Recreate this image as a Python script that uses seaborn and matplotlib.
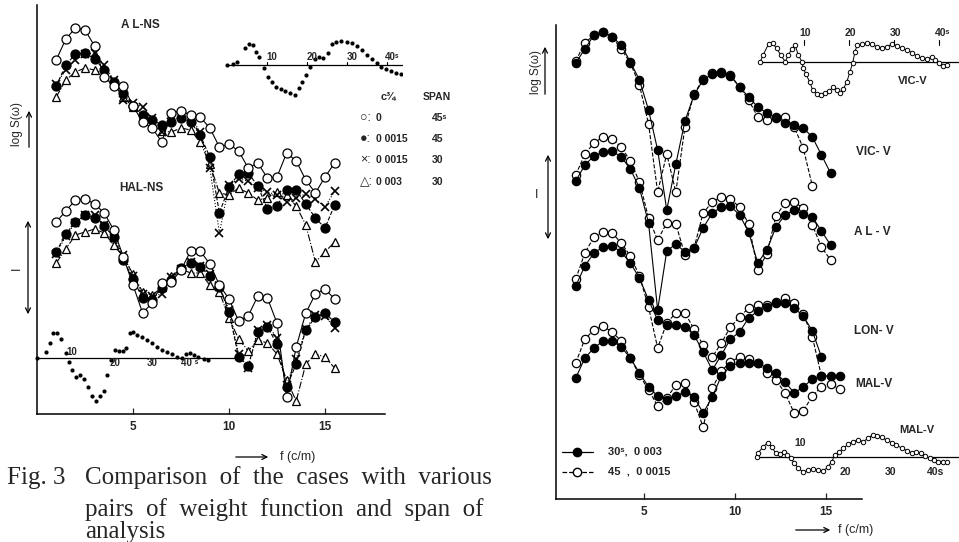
import numpy as np
import matplotlib.pyplot as plt
import seaborn as sns
from matplotlib.patches import FancyArrowPatch
from matplotlib.lines import Line2D

W, H = 959, 542

# frequency grids (c/m)
f_left = [1.0, 1.5, 2.0, 2.5, 3.0, 3.5, 4.0, 4.5, 5.0, 5.5, 6.0, 6.5, 7.0, 7.5, 8.0,
          8.5, 9.0, 9.5, 10.0, 10.5, 11.0, 11.5, 12.0, 12.5, 13.0, 13.5, 14.0, 14.5, 15.0, 15.5]
f_right = [1.25, 1.75, 2.25, 2.75, 3.25, 3.75, 4.25, 4.75, 5.25, 5.75, 6.25, 6.75, 7.25, 7.75, 8.25,
           8.75, 9.25, 9.75, 10.25, 10.75, 11.25, 11.75, 12.25, 12.75, 13.25, 13.75, 14.25, 14.75, 15.25, 15.75]

# AL-NS, log S (relative units)
al_ns_c0 = [3.54, 3.75, 3.86, 3.84, 3.68, 3.37, 3.28, 3.28, 3.08, 2.92, 2.86, 2.72, 3.01, 3.03, 2.99,
            2.97, 2.86, 2.67, 2.70, 2.63, 2.46, 2.51, 2.36, 2.37, 2.61, 2.53, 2.34, 2.21, 2.37, 2.51]
al_ns_c1 = [3.28, 3.49, 3.60, 3.61, 3.55, 3.44, 3.32, 3.21, 3.08, 2.99, 2.94, 2.89, 2.92, 2.96, 2.92,
            2.79, 2.57, 2.01, 2.27, 2.40, 2.41, 2.28, 2.05, 2.08, 2.24, 2.24, 2.10, 1.96, 1.86, 2.09]
al_ns_c2 = [3.30, 3.44, 3.54, 3.60, 3.61, 3.49, 3.34, 3.14, 3.11, 3.07, 2.96, 2.82, 2.99, 2.99, 2.97,
            2.82, 2.46, 1.81, 2.29, 2.35, 2.33, 2.26, 2.22, 2.19, 2.12, 2.16, 2.20, 2.15, 2.07, 2.23]
al_ns_c3 = [3.17, 3.34, 3.42, 3.46, 3.44, 3.40, 3.30, 3.17, 3.07, 2.99, 2.89, 2.83, 2.82, 2.86, 2.84,
            2.72, 2.50, 2.21, 2.19, 2.26, 2.21, 2.14, 2.16, 2.22, 2.19, 2.08, 1.89, 1.52, 1.62, 1.72]

# HAL-NS
hal_ns_c0 = [1.92, 2.03, 2.14, 2.15, 2.10, 2.01, 1.84, 1.57, 1.29, 1.01, 1.11, 1.31, 1.32, 1.44, 1.63,
             1.63, 1.50, 1.29, 1.15, 0.93, 0.98, 1.18, 1.16, 0.91, 0.17, 0.67, 1.01, 1.20, 1.25, 1.15]
hal_ns_c1 = [1.62, 1.80, 1.92, 1.99, 1.96, 1.88, 1.77, 1.54, 1.35, 1.16, 1.14, 1.26, 1.34, 1.46, 1.51,
             1.47, 1.38, 1.27, 1.02, 0.57, 0.48, 0.82, 0.87, 0.70, 0.27, 0.50, 0.84, 0.97, 1.01, 0.92]
hal_ns_c2 = [1.60, 1.78, 1.91, 1.99, 1.99, 1.89, 1.76, 1.59, 1.38, 1.20, 1.18, 1.20, 1.37, 1.45, 1.52,
             1.48, 1.40, 1.27, 1.04, 0.60, 0.46, 0.84, 0.89, 0.76, 0.29, 0.55, 0.85, 0.99, 0.98, 0.86]
hal_ns_c3 = [1.51, 1.65, 1.79, 1.82, 1.85, 1.81, 1.69, 1.57, 1.40, 1.22, 1.19, 1.27, 1.38, 1.45, 1.41,
             1.41, 1.29, 1.22, 0.96, 0.75, 0.63, 0.74, 0.71, 0.60, 0.34, 0.13, 0.50, 0.60, 0.57, 0.46]

# vertical components: 30s/0.003 (filled) and 45/0.0015 (open)
vic_30 = [4.36, 4.50, 4.64, 4.67, 4.62, 4.54, 4.37, 4.19, 3.89, 3.49, 2.89, 3.35, 3.78, 4.04, 4.19,
          4.25, 4.26, 4.23, 4.12, 4.02, 3.92, 3.86, 3.81, 3.76, 3.74, 3.71, 3.62, 3.44, 3.26]
vic_45 = [4.38, 4.56, 4.64, 4.67, 4.62, 4.50, 4.36, 4.14, 3.75, 3.07, 3.45, 3.07, 3.72, 4.05, 4.20,
          4.26, 4.27, 4.24, 4.12, 3.99, 3.82, 3.79, 3.82, 3.82, 3.72, 3.51, 3.13]
al_30 = [3.18, 3.34, 3.43, 3.47, 3.48, 3.42, 3.30, 3.11, 2.76, 1.89, 2.48, 2.55, 2.47, 2.51, 2.71,
         2.86, 2.92, 2.93, 2.84, 2.67, 2.36, 2.49, 2.72, 2.84, 2.89, 2.85, 2.82, 2.68, 2.54]
al_45 = [3.24, 3.45, 3.56, 3.62, 3.60, 3.52, 3.38, 3.17, 2.81, 2.59, 2.76, 2.75, 2.44, 2.51, 2.86,
         2.97, 3.02, 3.00, 2.92, 2.75, 2.29, 2.45, 2.83, 2.96, 2.97, 2.91, 2.74, 2.52, 2.39]
lon_30 = [2.13, 2.33, 2.46, 2.52, 2.53, 2.47, 2.36, 2.21, 1.99, 1.79, 1.74, 1.74, 1.72, 1.64, 1.47,
          1.29, 1.44, 1.60, 1.67, 1.81, 1.88, 1.92, 1.96, 1.96, 1.91, 1.83, 1.68, 1.42]
lon_45 = [2.20, 2.46, 2.62, 2.67, 2.66, 2.56, 2.43, 2.23, 1.92, 1.51, 1.76, 1.86, 1.86, 1.70, 1.54,
          1.42, 1.56, 1.72, 1.82, 1.91, 1.94, 1.94, 1.97, 2.01, 1.96, 1.85, 1.62, 1.23]
mal_30 = [1.21, 1.41, 1.51, 1.58, 1.58, 1.52, 1.41, 1.26, 1.12, 1.03, 0.99, 1.03, 1.07, 1.02, 0.86,
          1.02, 1.23, 1.33, 1.36, 1.36, 1.36, 1.31, 1.26, 1.17, 1.06, 1.12, 1.20, 1.23, 1.23, 1.23]
mal_45 = [1.36, 1.60, 1.69, 1.73, 1.67, 1.58, 1.41, 1.24, 1.09, 0.93, 1.01, 1.14, 1.16, 0.97, 0.72,
          1.11, 1.28, 1.37, 1.42, 1.40, 1.36, 1.26, 1.19, 1.06, 0.86, 0.88, 1.03, 1.12, 1.15, 1.10]

# inset curves (lag in s, relative amplitude)
ins_al_lag = [0, 1.6, 2.6, 4.5, 5.6, 6.4, 7.3, 8.1, 9.3, 10.3, 11.2, 12.3, 13.4, 14.5, 15.8, 17.0, 18.0,
              18.8, 19.8, 20.8, 22.0, 23.1, 24.1, 25.3, 26.2, 27.3, 28.4, 29.9, 31.2, 32.4, 33.7, 34.9,
              36.2, 37.4, 38.6, 39.8, 41.0, 42.2, 43.4]
ins_al_val = [0, 0.1, 0.33, 1.67, 2.07, 2.0, 1.33, 0.83, -0.33, -1.23, -1.73, -2.17, -2.43, -2.57, -2.83,
              -3.0, -2.33, -1.67, -1.0, -0.17, 0.57, 0.77, 0.67, 1.17, 2.1, 2.33, 2.43, 2.33, 2.17, 1.9,
              1.5, 1.0, 0.57, 0.17, -0.2, -0.4, -0.6, -0.8, -0.9]
ins_hal_lag = [0, 2.4, 3.5, 4.4, 5.5, 6.5, 7.8, 8.6, 9.5, 10.5, 11.6, 12.7, 13.9, 14.8, 16.0, 17.0, 18.1,
               18.8, 20.0, 21.1, 22.2, 23.2, 24.1, 25.1, 26.0, 27.0, 28.3, 29.7, 31.0, 32.4, 33.7, 35.1,
               36.4, 37.8, 39.1, 40.3, 41.4, 42.4, 43.6, 45.0, 46.3]
ins_hal_val = [0.06, 0.67, 1.57, 2.57, 2.57, 1.9, 0.57, -0.33, -1.17, -1.9, -1.67, -2.1, -2.83, -3.77,
               -4.23, -3.77, -3.27, -1.67, -0.17, 0.83, 0.77, 0.77, 1.0, 2.57, 2.67, 2.33, 2.1, 1.83,
               1.57, 1.1, 0.83, 0.67, 0.43, 0.17, 0.0, 0.43, 0.5, 0.33, 0.1, -0.1, -0.17]
ins_vic_lag = [0, 0.7, 1.9, 2.8, 3.7, 4.6, 5.6, 6.3, 7.0, 7.8, 8.5, 9.3, 9.6, 10.2, 11.0, 11.7, 12.6,
               13.5, 14.4, 15.4, 16.3, 17.0, 17.8, 18.5, 19.3, 20.0, 20.6, 21.1, 21.6, 22.6, 23.7, 24.8,
               25.9, 27.0, 28.1, 29.3, 30.4, 31.5, 32.6, 33.7, 34.8, 35.9, 37.0, 38.2, 38.9, 39.8, 40.7, 41.5]
ins_vic_val = [0, 0.73, 1.83, 1.9, 1.4, 0.73, 0.07, 0.73, 1.3, 1.73, 0.73, 0.07, -0.6, -1.17, -1.93,
               -2.77, -3.2, -3.27, -3.1, -2.83, -2.5, -2.77, -3.1, -2.7, -1.93, -0.93, -0.03, 1.07, 1.73,
               1.83, 1.9, 1.8, 1.57, 1.4, 1.57, 1.8, 1.67, 1.4, 1.23, 0.97, 0.63, 0.4, 0.33, 0.5, 0.23,
               -0.1, -0.37, -0.27]
ins_mal_lag = [0, 0.3, 1.4, 2.4, 3.3, 4.2, 5.1, 6.0, 6.7, 7.5, 8.2, 9.2, 10.3, 11.4, 12.5, 13.6, 14.7,
               15.7, 16.6, 17.3, 18.3, 19.2, 20.3, 21.4, 22.5, 23.6, 24.7, 25.7, 26.7, 27.7, 28.8, 29.9,
               31.0, 32.2, 33.3, 34.4, 35.3, 36.4, 37.3, 38.4, 39.3, 40.3, 41.4, 42.3]
ins_mal_val = [0, 0.47, 1.07, 1.47, 1.0, 0.4, 0.33, 0.57, 0.23, -0.1, -0.53, -1.1, -1.5, -1.27, -1.2,
               -1.27, -1.37, -1.0, -0.43, 0.23, 0.57, 0.9, 1.33, 1.57, 1.73, 1.57, 1.9, 2.23, 2.17, 2.0,
               1.73, 1.47, 1.23, 0.9, 0.67, 0.47, 0.57, 0.4, 0.13, -0.1, -0.27, -0.43, -0.43, -0.43]

sns.set_theme(style='ticks')
plt.rcParams['font.family'] = ['Liberation Sans', 'DejaVu Sans']

fig = plt.figure(figsize=(W / 100, H / 100), dpi=100)


def box(x0, y0, x1, y1):
    # pixel box (top-left origin) -> figure fraction rect
    return [x0 / W, 1 - y1 / H, (x1 - x0) / W, (y1 - y0) / H]


def ftext(x, y, s, **kw):
    kw.setdefault('ha', 'center')
    kw.setdefault('va', 'center')
    fig.text(x / W, 1 - y / H, s, **kw)


def farrow(x0, y0, x1, y1, style='->'):
    fig.add_artist(FancyArrowPatch((x0 / W, 1 - y0 / H), (x1 / W, 1 - y1 / H),
                                   transform=fig.transFigure, arrowstyle=style,
                                   mutation_scale=9, lw=0.9, color='black'))


def curve(ax, f, y, ls, marker, mfc, ms=6.5, mew=0.9):
    sns.lineplot(x=f[:len(y)], y=y, ax=ax, color='black', linestyle=ls, lw=0.8,
                 marker=marker, markersize=ms, markerfacecolor=mfc, markeredgecolor='black',
                 markeredgewidth=mew, estimator=None, sort=False, clip_on=False)


def style_main(ax):
    sns.despine(ax=ax)
    for s in ['left', 'bottom']:
        ax.spines[s].set_linewidth(1.1)
        ax.spines[s].set_color('black')
    ax.set_yticks([])
    ax.set_xticks([5, 10, 15])
    ax.tick_params(axis='x', direction='in', length=4, width=0.9, pad=5, labelsize=8.5)
    for t in ax.get_xticklabels():
        t.set_fontweight('bold')
    ax.set_xlabel('')
    ax.set_ylabel('')
    ax.set_facecolor('none')


# ---------------- left panel ----------------
axL = fig.add_axes(box(37, 5, 385, 414))
for yy, ls, mk, mfc, ms, mew in [(al_ns_c3, '-.', '^', 'white', 5.5, 0.9), (al_ns_c2, ':', 'x', 'black', 6, 1.2),
                                  (al_ns_c1, '--', 'o', 'black', 6.5, 0.9), (al_ns_c0, '-', 'o', 'white', 6.5, 0.9),
                                  (hal_ns_c3, '-.', '^', 'white', 5.5, 0.9), (hal_ns_c2, ':', 'x', 'black', 6, 1.2),
                                  (hal_ns_c1, '--', 'o', 'black', 6.5, 0.9), (hal_ns_c0, '-', 'o', 'white', 6.5, 0.9)]:
    curve(axL, f_left, yy, ls, mk, mfc, ms=ms, mew=mew)
axL.set_xlim(0, (385 - 37) / 19.2)
axL.set_ylim(0, 4.09)
style_main(axL)

# ---------------- right panel ----------------
axR = fig.add_axes(box(556, 25, 862, 499))
for yy, ls, mfc in [(vic_45, '--', 'white'), (vic_30, '-', 'black'), (al_45, '--', 'white'),
                    (al_30, '-', 'black'), (lon_45, '--', 'white'), (lon_30, '-', 'black'),
                    (mal_45, '--', 'white'), (mal_30, '-', 'black')]:
    curve(axR, f_right, yy, ls, 'o', mfc, ms=6.0)
axR.set_xlim((556 - 553) / 18.2, (862 - 553) / 18.2)
axR.set_ylim(0, 4.74)
style_main(axR)


# ---------------- insets ----------------
def inset(rect, xlim, ylim, lag, val, filled):
    ax = fig.add_axes(box(*rect))
    ax.axis('off')
    ax.set_xlim(*xlim)
    ax.set_ylim(*ylim)
    ax.plot([lag[0], xlim[1]], [0, 0], color='black', lw=0.9, clip_on=False)
    if filled:
        sns.scatterplot(x=lag, y=val, ax=ax, color='black', s=9, edgecolor='black', linewidth=0)
    else:
        sns.lineplot(x=lag, y=val, ax=ax, color='black', lw=0.7, marker='o', markersize=3.2,
                     markerfacecolor='white', markeredgecolor='black', markeredgewidth=0.7,
                     estimator=None, sort=False)
    ax.set_xlabel('')
    ax.set_ylabel('')
    return ax


axI1 = inset((222, 30, 402, 100), (-1.25, 43.75), (-3.5, 3.5), ins_al_lag, ins_al_val, True)
for lg, lab in [(10, '10'), (20, '20'), (30, '30'), (40, '40ˢ')]:
    axI1.text(lg + 1.2, 0.75, lab, fontsize=7, fontweight='bold', ha='center', va='center')
    axI1.plot([lg, lg], [0, 0.3], color='black', lw=0.8)

axI2 = inset((30, 320, 235, 410), (-1.89, 53.5), (-5.17, 3.83), ins_hal_lag, ins_hal_val, True)
axI2.text(9.5, 0.65, '10', fontsize=7, fontweight='bold', ha='center', va='center')
for lg, lab in [(20, '20'), (30, '30'), (40, '40 ˢ')]:
    axI2.text(lg + 1.2, -0.45, lab, fontsize=7, fontweight='bold', ha='center', va='center')

axI3 = inset((750, 25, 959, 105), (-2.22, 44.2), (-4.27, 3.73), ins_vic_lag, ins_vic_val, False)
for lg, lab in [(10, '10'), (20, '20'), (30, '30'), (40, '40ˢ')]:
    axI3.text(lg + 0.6 * (lg == 40), 2.93, lab, fontsize=7.5, fontweight='bold', ha='center', va='center')
    axI3.plot([lg - 0.2, lg - 0.2], [1.7, 2.2], color='black', lw=0.8)
axI3.text(33.9, -1.9, 'VIC-V', fontsize=8, fontweight='bold', ha='center', va='center')

axI4 = inset((745, 415, 959, 485), (-2.67, 44.9), (-2.77, 4.23), ins_mal_lag, ins_mal_val, False)
axI4.text(9.5, 1.4, '10', fontsize=7.5, fontweight='bold', ha='center', va='center')
for lg, lab in [(20, '20'), (30, '30'), (40, '40s')]:
    axI4.text(lg - 0.4, -1.5, lab, fontsize=7.5, fontweight='bold', ha='center', va='center')
axI4.text(35.5, 2.7, 'MAL-V', fontsize=8, fontweight='bold', ha='center', va='center')

# ---------------- labels and annotations ----------------
lab = dict(fontsize=8.5, fontweight='bold')
ftext(140, 25, 'A L-NS', **lab)
ftext(141, 188, 'HAL-NS', **lab)
ftext(873, 152, 'VIC- V', **lab)
ftext(872, 232, 'A L - V', **lab)
ftext(874, 331, 'LON- V', **lab)
ftext(874, 384, 'MAL-V', **lab)

# left legend
ftext(388, 97, 'c¾', fontsize=8, fontweight='bold')
ftext(437, 97, 'SPAN', fontsize=7.5, fontweight='bold')
for yy, mk, c, sp in [(118, '○', '0', '45ˢ'), (139, '●', '0 0015', '45'),
                      (160, '×', '0 0015', '30'), (182, '△', '0 003', '30')]:
    ftext(360, yy, mk + ':', fontsize=9, ha='left')
    ftext(376, yy, c, fontsize=7.5, fontweight='bold', ha='left')
    ftext(432, yy, sp, fontsize=7.5, fontweight='bold', ha='left')

# right legend
for yy, ls, mfc, txt in [(452, '-', 'black', '30ˢ,  0 003'), (472, '--', 'white', '45  ,  0 0015')]:
    fig.add_artist(Line2D([562 / W, 577 / W, 593 / W], [1 - yy / H] * 3, transform=fig.transFigure,
                          color='black', lw=0.9, ls=ls, marker='o', markevery=[1], markersize=6,
                          markerfacecolor=mfc, markeredgecolor='black'))
    ftext(608, yy, txt, fontsize=8, fontweight='bold', ha='left')

# y labels with arrows
ftext(17, 124, 'log S(ω)', fontsize=8.5, rotation=90)
farrow(29, 150, 29, 108)
ftext(17, 268, 'I', fontsize=9, rotation=90)
farrow(28, 218, 28, 317, style='<->')

ftext(536, 72, 'log S(ω)', fontsize=8.5, rotation=90)
farrow(545, 97, 545, 44)
ftext(537, 195, 'I', fontsize=9)
farrow(548, 152, 548, 242, style='<->')

# x labels
farrow(233, 457, 271, 457)
ftext(298, 457, 'f (c/m)', fontsize=9)
farrow(793, 530, 833, 530)
ftext(856, 530, 'f (c/m)', fontsize=9)

# caption
cap = dict(fontsize=18, family='Liberation Serif', ha='left')
ftext(7, 478, 'Fig. 3', **cap)
ftext(85, 478, 'Comparison  of  the  cases  with  various', **cap)
ftext(85, 510, 'pairs  of  weight  function  and  span  of', **cap)
ftext(85, 532, 'analysis', **cap)

fig.savefig('out.png', dpi=100)
